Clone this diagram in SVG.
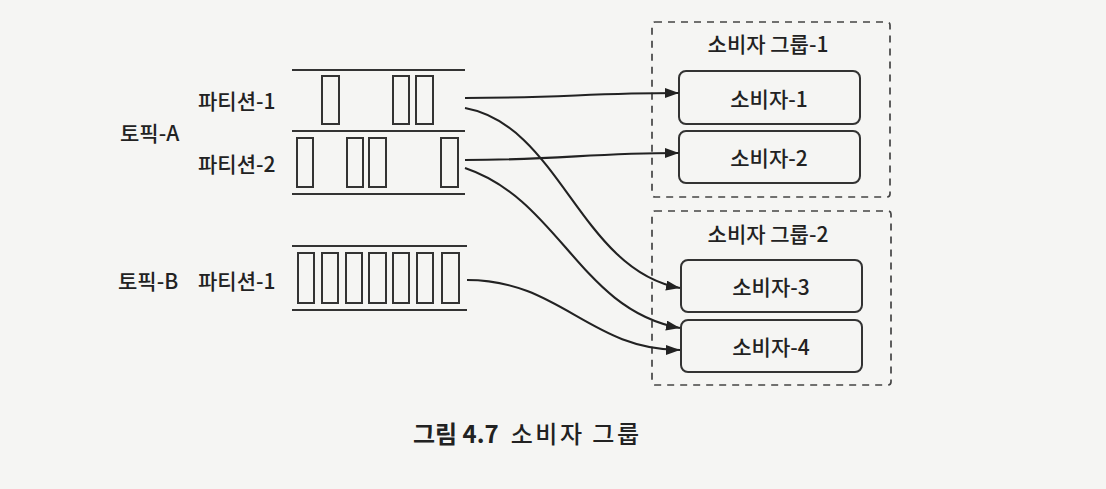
<svg xmlns="http://www.w3.org/2000/svg" width="1106" height="489" viewBox="0 0 1106 489">
<style>
text{font-family:"Noto Sans CJK KR","Noto Sans",sans-serif;fill:#222;font-size:21px;font-weight:500}
.rule{stroke:#333;stroke-width:2.2}
.seg{fill:none;stroke:#333;stroke-width:2}
.grp{fill:none;stroke:#444;stroke-width:1.7;stroke-dasharray:7 6}
.node{fill:none;stroke:#333;stroke-width:2}
.conn{fill:none;stroke:#222;stroke-width:2.1}
.c{text-anchor:middle;dominant-baseline:central}
</style>
<defs>
<marker id="ah" markerUnits="userSpaceOnUse" markerWidth="15" markerHeight="11" refX="14" refY="5" orient="auto">
<path d="M0,0 L14,5 L0,10 z" fill="#222"/>
</marker>
</defs>
<rect width="1106" height="489" fill="#f5f5f3"/>

<g id="topic-a">
<text x="120" y="132" dominant-baseline="central">토픽-A</text>
<g id="topic-a-partition-1">
<text x="198" y="100" dominant-baseline="central">파티션-1</text>
<line class="rule" x1="292" y1="70" x2="465" y2="70"/>
<rect class="seg" x="322" y="76" width="17" height="48"/>
<rect class="seg" x="393" y="76" width="16" height="48"/>
<rect class="seg" x="416" y="76" width="17" height="48"/>
</g>
<line class="rule" x1="292" y1="131" x2="465" y2="131"/>
<g id="topic-a-partition-2">
<text x="198" y="163" dominant-baseline="central">파티션-2</text>
<rect class="seg" x="297" y="138" width="16" height="49"/>
<rect class="seg" x="347" y="138" width="16" height="49"/>
<rect class="seg" x="369" y="138" width="17" height="49"/>
<rect class="seg" x="441" y="138" width="17" height="49"/>
<line class="rule" x1="292" y1="194" x2="465" y2="194"/>
</g>
</g>

<g id="topic-b">
<text x="118" y="280" dominant-baseline="central">토픽-B</text>
<g id="topic-b-partition-1">
<text x="198" y="280" dominant-baseline="central">파티션-1</text>
<line class="rule" x1="292" y1="246" x2="467" y2="246"/>
<line class="rule" x1="292" y1="310" x2="467" y2="310"/>
<rect class="seg" x="298" y="253" width="16" height="50"/>
<rect class="seg" x="322" y="253" width="16" height="50"/>
<rect class="seg" x="346" y="253" width="16" height="50"/>
<rect class="seg" x="369" y="253" width="17" height="50"/>
<rect class="seg" x="393" y="253" width="16" height="50"/>
<rect class="seg" x="417" y="253" width="16" height="50"/>
<rect class="seg" x="442" y="253" width="17" height="50"/>
</g>
</g>

<g id="consumer-group-1">
<rect class="grp" x="652" y="22" width="238" height="175" rx="3"/>
<text class="c" x="768" y="43">소비자 그룹-1</text>
<g id="consumer-1">
<rect class="node" x="679" y="71" width="181" height="53" rx="7"/>
<text class="c" x="769" y="98">소비자-1</text>
</g>
<g id="consumer-2">
<rect class="node" x="679" y="131" width="181" height="52" rx="7"/>
<text class="c" x="769" y="157">소비자-2</text>
</g>
</g>

<g id="consumer-group-2">
<rect class="grp" x="652" y="211" width="239" height="174" rx="3"/>
<text class="c" x="768" y="233">소비자 그룹-2</text>
<g id="consumer-3">
<rect class="node" x="681" y="260" width="181" height="52" rx="7"/>
<text class="c" x="771" y="286">소비자-3</text>
</g>
<g id="consumer-4">
<rect class="node" x="681" y="320" width="181" height="52" rx="7"/>
<text class="c" x="771" y="346">소비자-4</text>
</g>
</g>

<g id="connectors">
<path class="conn" marker-end="url(#ah)" d="M465,98 C560,98 590,93 679,93"/>
<path class="conn" marker-end="url(#ah)" d="M465,108 C560,125 580,270 680,288"/>
<path class="conn" marker-end="url(#ah)" d="M465,160 C560,160 590,153 679,153"/>
<path class="conn" marker-end="url(#ah)" d="M465,168 C560,200 580,310 680,328"/>
<path class="conn" marker-end="url(#ah)" d="M467,280 C560,280 590,350 680,350"/>
</g>

<text x="413" y="432" dominant-baseline="central" style="font-size:24px"><tspan font-weight="bold">그림 4.7</tspan><tspan dx="12" letter-spacing="2.5">소비자 그룹</tspan></text>
</svg>
